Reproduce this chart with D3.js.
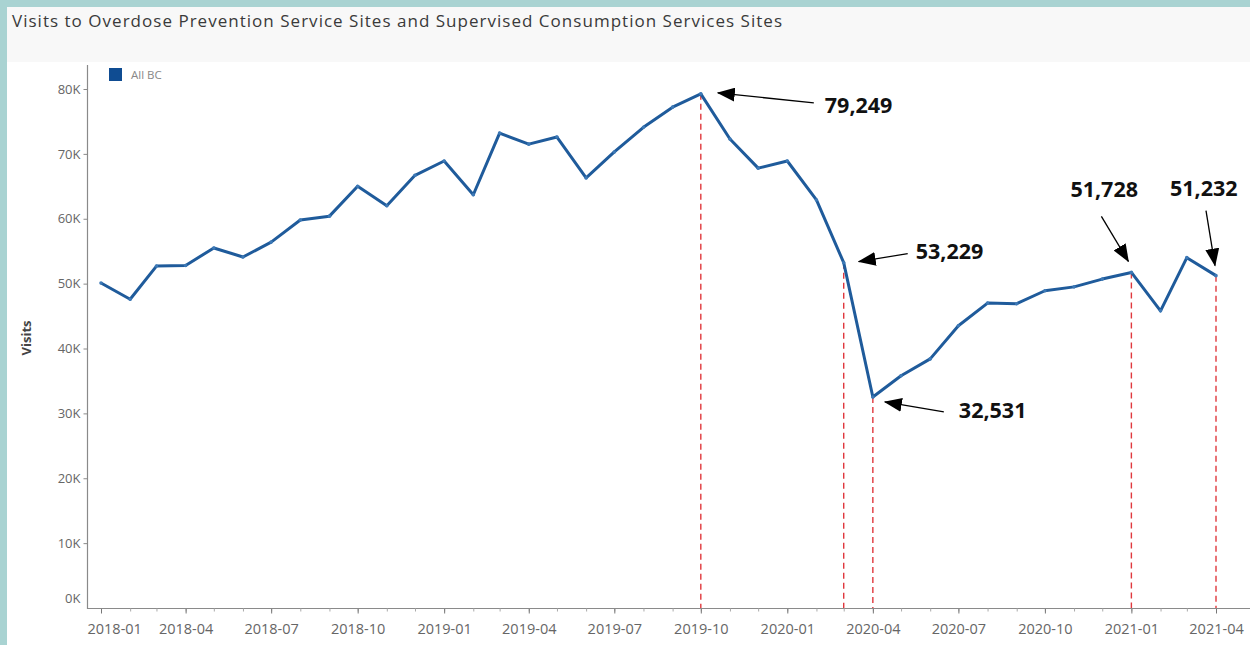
<!DOCTYPE html>
<html>
<head>
<meta charset="utf-8">
<script src="https://cdn.jsdelivr.net/npm/d3@7/dist/d3.min.js"></script>
<style>
  html, body { margin: 0; padding: 0; background: #a9d3d2; }
  svg { display: block; }
</style>
</head>
<body>
<svg id="chart" width="1250" height="645"></svg>
<script>
// ---- Data ----
const months = [
  "2018-01","2018-02","2018-03","2018-04","2018-05","2018-06","2018-07","2018-08","2018-09","2018-10","2018-11","2018-12",
  "2019-01","2019-02","2019-03","2019-04","2019-05","2019-06","2019-07","2019-08","2019-09","2019-10","2019-11","2019-12",
  "2020-01","2020-02","2020-03","2020-04","2020-05","2020-06","2020-07","2020-08","2020-09","2020-10","2020-11","2020-12",
  "2021-01","2021-02","2021-03","2021-04"
];
const visits = [
  50100, 47600, 52700, 52800, 55500, 54100, 56400, 59800, 60400, 65000, 62000, 66700,
  68900, 63700, 73200, 71500, 72600, 66300, 70300, 74100, 77200, 79249, 72300, 67800,
  68900, 62900, 53229, 32531, 35800, 38400, 43500, 47000, 46900, 48900, 49500, 50700,
  51728, 45800, 54000, 51232
];
const seriesName = "All BC";
const yTicks = [0, 10000, 20000, 30000, 40000, 50000, 60000, 70000, 80000];
const xTickMonths = ["2018-01","2018-04","2018-07","2018-10","2019-01","2019-04","2019-07","2019-10","2020-01","2020-04","2020-07","2020-10","2021-01","2021-04"];
const highlightMonths = ["2019-10","2020-03","2020-04","2021-01","2021-04"];
const titleText = "Visits to Overdose Prevention Service Sites and Supervised Consumption Services Sites";
const yTitle = "Visits";

// annotation layout (offsets relative to the highlighted point)
const annoLayout = {
  "2019-10": {tail: [113, 9],  tip: [17, -1], text: [124, 19]},
  "2020-03": {tail: [64, -9],  tip: [15, -1], text: [72, -4]},
  "2020-04": {tail: [71, 15],  tip: [12, 5],  text: [86, 21]},
  "2021-01": {tail: [-30, -56],tip: [-3, -11],text: [-61, -75]},
  "2021-04": {tail: [-10, -65],tip: [-1, -10],text: [-46, -80]}
};

// ---- Setup ----
const parse = d3.utcParse("%Y-%m");
const fmtMonth = d3.utcFormat("%Y-%m");
const data = months.map((m, i) => ({date: parse(m), key: m, value: visits[i]}));

const svg = d3.select("#chart");
const W = 1250, H = 645;
const font = "'Open Sans', sans-serif";

// panels
svg.append("rect").attr("x", 0).attr("y", 0).attr("width", W).attr("height", H).attr("fill", "#a9d3d2");
svg.append("rect").attr("x", 7).attr("y", 7).attr("width", W - 7).attr("height", H - 7).attr("fill", "#ffffff");
svg.append("rect").attr("x", 7).attr("y", 7).attr("width", W - 7).attr("height", 55).attr("fill", "#f8f8f8");

svg.append("text")
  .attr("x", 12).attr("y", 26.5)
  .attr("font-family", font)
  .attr("font-size", 17)
  .attr("fill", "#3a3a3a")
  .attr("textLength", 770).attr("lengthAdjust", "spacing")
  .text(titleText);

const x = d3.scaleUtc()
  .domain([parse("2018-01"), parse("2021-04")])
  .range([101, 1216]);
const y = d3.scaleLinear()
  .domain([0, 80000])
  .range([608, 89]);

const axisColor = "#8a8a8a";

// Y axis
const yAxisG = svg.append("g").attr("transform", "translate(87.5,0)");
yAxisG.append("line").attr("x1", 0).attr("x2", 0).attr("y1", 65).attr("y2", 609)
  .attr("stroke", axisColor).attr("stroke-width", 1.2);
const yAx = d3.axisLeft(y).tickValues(yTicks).tickSize(4).tickPadding(3)
  .tickFormat(d => (d / 1000) + "K");
const yg = yAxisG.append("g").call(yAx);
yg.select(".domain").remove();
yg.selectAll(".tick line").attr("stroke", axisColor);
yg.selectAll(".tick text")
  .attr("fill", "#666").attr("font-family", font).attr("font-size", 13);
yg.selectAll(".tick").filter(d => d === 0).select("line").remove();
yg.selectAll(".tick").filter(d => d === 0).select("text").attr("dy", "-0.45em");

svg.append("text")
  .attr("transform", "translate(31,338) rotate(-90)")
  .attr("text-anchor", "middle")
  .attr("font-family", font).attr("font-weight", "bold")
  .attr("font-size", 13).attr("fill", "#444")
  .text(yTitle);

// X axis
const xAxisG = svg.append("g").attr("transform", "translate(0,608.5)");
xAxisG.append("line").attr("x1", 87).attr("x2", W).attr("y1", 0).attr("y2", 0)
  .attr("stroke", axisColor).attr("stroke-width", 1.2);
const minor = xAxisG.append("g").call(
  d3.axisBottom(x).tickValues(data.map(d => d.date)).tickSize(3).tickFormat(""));
minor.select(".domain").remove();
minor.selectAll(".tick line").attr("stroke", "#aaa");
const major = xAxisG.append("g").call(
  d3.axisBottom(x).tickValues(xTickMonths.map(parse)).tickSize(5).tickPadding(10).tickFormat(fmtMonth));
major.select(".domain").remove();
major.selectAll(".tick line").attr("stroke", "#777");
major.selectAll(".tick text")
  .attr("fill", "#666").attr("font-family", font).attr("font-size", 14.5);
// first label kept inside the plot start (as in reference)
major.selectAll(".tick").filter((d, i) => i === 0).select("text")
  .attr("text-anchor", "start").attr("x", 87 - x(parse(xTickMonths[0])));

// Legend
svg.append("rect").attr("x", 109).attr("y", 68).attr("width", 13).attr("height", 13)
  .attr("fill", "#0f4c92");
svg.append("text").attr("x", 131).attr("y", 79)
  .attr("font-family", font).attr("font-size", 11.5).attr("fill", "#888")
  .text(seriesName);

// Red dashed highlight lines
const hl = data.filter(d => highlightMonths.includes(d.key));
svg.append("g").selectAll("line").data(hl).join("line")
  .attr("x1", d => x(d.date)).attr("x2", d => x(d.date))
  .attr("y1", d => y(d.value)).attr("y2", 608)
  .attr("stroke", "#e0383d").attr("stroke-width", 1.4)
  .attr("stroke-dasharray", "6,4");

// Line
const line = d3.line().x(d => x(d.date)).y(d => y(d.value));
svg.append("path").datum(data)
  .attr("d", line)
  .attr("fill", "none")
  .attr("stroke", "#1f5b9b")
  .attr("stroke-width", 3)
  .attr("stroke-linejoin", "round");
svg.append("g").selectAll("circle").data(data).join("circle")
  .attr("cx", d => x(d.date)).attr("cy", d => y(d.value)).attr("r", 1.8)
  .attr("fill", "#3d79b6");

// Annotations
const defs = svg.append("defs");
defs.append("marker").attr("id", "ah")
  .attr("viewBox", "0 0 18 14").attr("refX", 17).attr("refY", 7)
  .attr("markerWidth", 18).attr("markerHeight", 14)
  .attr("markerUnits", "userSpaceOnUse").attr("orient", "auto")
  .append("path").attr("d", "M0,0 L18,7 L0,14 Z").attr("fill", "#000");

const fmtNum = d3.format(",");
const ag = svg.append("g");
hl.forEach(d => {
  const L = annoLayout[d.key];
  const px = x(d.date), py = y(d.value);
  ag.append("line")
    .attr("x1", px + L.tail[0]).attr("y1", py + L.tail[1])
    .attr("x2", px + L.tip[0]).attr("y2", py + L.tip[1])
    .attr("stroke", "#000").attr("stroke-width", 1.3)
    .attr("marker-end", "url(#ah)");
  ag.append("text")
    .attr("x", px + L.text[0]).attr("y", py + L.text[1])
    .attr("font-family", font).attr("font-weight", "bold")
    .attr("font-size", 21.5).attr("fill", "#111")
    .text(fmtNum(d.value));
});
</script>
</body>
</html>
